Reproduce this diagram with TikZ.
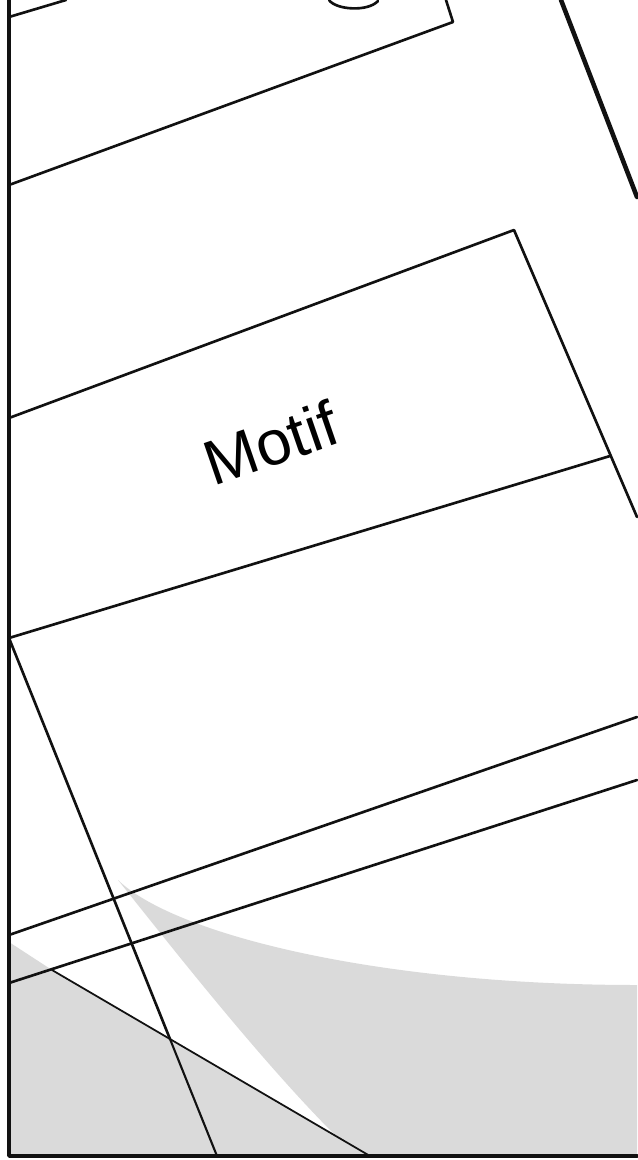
\documentclass[tikz,border=0pt]{standalone}
\usepackage{fontspec}
\setmainfont{Liberation Sans}
\usetikzlibrary{positioning,calc}
\definecolor{ink}{HTML}{111111}
\definecolor{halftone}{HTML}{DADADA}
\tikzset{
  %% strokes
  frame/.style    = {draw=ink, line width=2.1pt},
  edge/.style     = {draw=ink, line width=1.5pt},
  heavy/.style    = {draw=ink, line width=2.6pt},
  hair/.style     = {draw=ink, line width=1pt},
  %% fills
  shadefill/.style = {fill=halftone, draw=none},
}

\begin{document}
\begin{tikzpicture}[
  x=0.02cm, y=-0.02cm, line cap=round, line join=round,
  tag/.style = {font=\fontsize{36}{40}\selectfont, inner sep=0pt, rotate=19},
]
\useasboundingbox (0,0) rectangle (637,1160);

%% ---- frame corners ----
\coordinate (tl) at (9,0);
\coordinate (bl) at (9,1156);
\coordinate (br) at (637,1156);

%% ---- upper box (cut off) ----
\coordinate (capL)  at (9,17);
\coordinate (capR)  at (66,0);
\coordinate (boxL)  at (9,185);
\coordinate (boxC)  at (453,22);
\coordinate (boxU)  at (446,0);
\coordinate (rimT)  at (561,0);
\coordinate (rimB)  at (637,197);

%% ---- motif box ----
\coordinate (mNW)   at (9,418);
\coordinate (mNE)   at (514,230);
\coordinate (mE)    at (637,517);
\coordinate (mMidL) at (9,638);
\coordinate (mMidR) at (610,456);

%% ---- lower rails and legs ----
\coordinate (railAL) at (9,935);
\coordinate (railAR) at (637,717);
\coordinate (railBL) at (9,983);
\coordinate (railBR) at (637,780);
\coordinate (legB)   at (217,1156);
\coordinate (fanL)   at (52,970);
\coordinate (fanB)   at (370,1156);
\coordinate (fanX)   at (335,1135);
\coordinate (tip)    at (118,880);
\coordinate (xing)   at (intersection of mMidL--legB and fanL--fanB);

%% shaded ground
\fill[shadefill] (9,942) -- (fanL) -- (fanB) -- (bl) -- cycle;
\fill[shadefill] (tip) .. controls (175,935) and (380,985) .. (637,985)
   -- (br) -- (fanB) -- (fanX) .. controls (260,1060) and (170,945) .. (tip) -- cycle;

%% upper box
\draw[edge] (capL) -- (capR);
\draw[edge] (boxL) -- (boxC) -- (boxU);
\draw[edge] (329,0) .. controls (336,10) and (368,12) .. (378,1);
\draw[heavy] (rimT) -- (rimB);

%% motif box
\draw[edge] (mNW) -- (mNE) -- (mE);
\draw[edge] (mMidL) -- (mMidR);
\node[tag] (motif) at (271,443) {Motif};

%% rails, legs
\draw[edge] (railAL) -- (railAR);
\draw[edge] (railBL) -- (railBR);
\draw[edge] (mMidL) -- (xing);
\draw[hair, line width=1.2pt] (xing) -- (legB);
\draw[hair] (fanL) -- (fanB);

%% frame
\draw[frame] (tl) -- (bl) -- (br);
\end{tikzpicture}
\end{document}
